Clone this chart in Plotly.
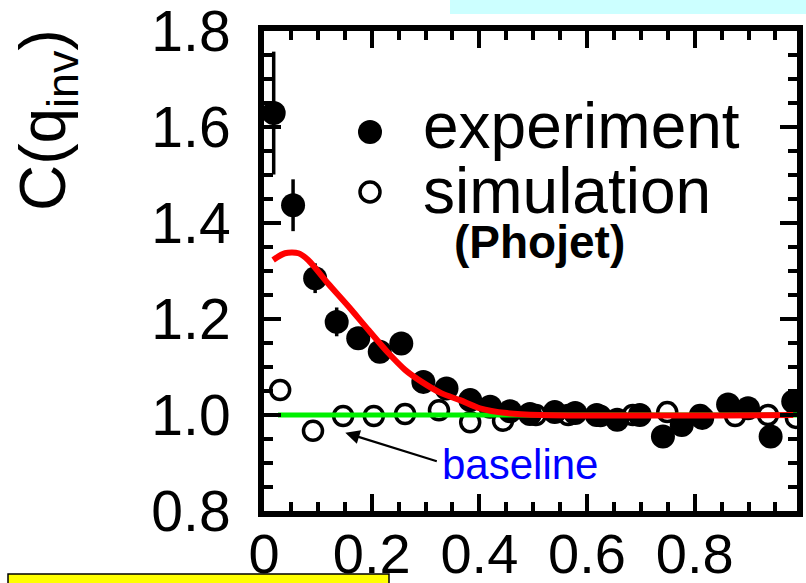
import plotly.graph_objects as go

# ---- data ----
exp_x = [0.018, 0.054, 0.095, 0.135, 0.175, 0.215, 0.255, 0.296, 0.339, 0.383,
         0.420, 0.457, 0.494, 0.540, 0.578, 0.618, 0.656, 0.698, 0.741, 0.776,
         0.814, 0.862, 0.899, 0.941, 0.983]
exp_y = [1.629, 1.437, 1.285, 1.194, 1.160, 1.132, 1.149, 1.069, 1.055, 1.031,
         1.017, 1.008, 1.002, 1.006, 1.004, 1.000, 0.990, 1.000, 0.955, 0.979,
         0.994, 1.022, 1.014, 0.955, 1.028]
exp_err = [0.128, 0.054, 0.031, 0.030, 0.018, 0.012, 0.012, 0.010, 0.010, 0.008,
           0.008, 0.008, 0.008, 0.008, 0.008, 0.008, 0.008, 0.008, 0.008, 0.008,
           0.008, 0.008, 0.008, 0.008, 0.008]

sim_x = [0.030, 0.091, 0.147, 0.204, 0.262, 0.325, 0.383, 0.444, 0.505, 0.565,
         0.625, 0.685, 0.749, 0.810, 0.875, 0.936, 0.988]
sim_y = [1.052, 0.967, 0.998, 0.998, 1.002, 1.010, 0.985, 0.988, 1.000, 1.000,
         0.998, 1.000, 1.006, 1.000, 0.998, 1.000, 0.994]

fit_x = [0.017, 0.039, 0.064, 0.082, 0.119, 0.157, 0.194, 0.231, 0.262, 0.293,
         0.330, 0.364, 0.401, 0.451, 0.513, 0.983]
fit_y = [1.323, 1.337, 1.337, 1.323, 1.274, 1.226, 1.177, 1.129, 1.094, 1.069,
         1.045, 1.031, 1.014, 1.004, 1.000, 1.000]

base_x = [0.026, 0.99]
base_y = [1.0, 1.0]

x_range = [0, 0.99]
y_range = [0.8, 1.8]

# ---- layout geometry ----
L, R, T, B = 264, 9, 31, 72
W, H = 806, 583
PW, PH = W - L - R, H - T - B

def px(xp):
    return (xp - L) / PW

def py(yp):
    return (H - B - yp) / PH

FONT = "Liberation Sans, Arial, Helvetica, sans-serif"

fig = go.Figure()

fig.add_trace(go.Scatter(
    x=sim_x, y=sim_y, mode="markers",
    marker=dict(symbol="circle-open", size=19, color="black", line=dict(width=3.5, color="black")),
    showlegend=False, name="simulation"))

fig.add_trace(go.Scatter(
    x=exp_x, y=exp_y, mode="markers",
    marker=dict(symbol="circle", size=24, color="black"),
    error_y=dict(type="data", array=exp_err, visible=True, color="black", thickness=3.5, width=0),
    showlegend=False, name="experiment"))

fig.add_trace(go.Scatter(
    x=base_x, y=base_y, mode="lines",
    line=dict(color="#00f000", width=5), showlegend=False, name="baseline"))

fig.add_trace(go.Scatter(
    x=fit_x, y=fit_y, mode="lines",
    line=dict(color="#ff0000", width=6, shape="spline", smoothing=0.8),
    showlegend=False, name="fit"))

axis_common = dict(
    showline=True, linecolor="black", linewidth=6, mirror="ticks",
    ticks="inside", ticklen=17, tickwidth=4, tickcolor="black",
    showgrid=False, zeroline=False, automargin=False,
    ticklabeloverflow="allow",
)

fig.update_xaxes(
    range=x_range, tickvals=[0, 0.2, 0.4, 0.6, 0.8], ticktext=["0", "0.2", "0.4", "0.6", "0.8"],
    minor=dict(dtick=0.05, tick0=0, ticks="inside", ticklen=9, tickwidth=4, tickcolor="black", showgrid=False),
    tickfont=dict(family=FONT, size=56, color="black"), ticklabelstandoff=-11,
    **axis_common)
fig.update_yaxes(
    range=y_range, dtick=0.2, tick0=0.8, tickformat=".1f",
    minor=dict(dtick=0.05, tick0=0.8, ticks="inside", ticklen=9, tickwidth=4, tickcolor="black", showgrid=False),
    tickfont=dict(family=FONT, size=57, color="black"), ticklabelstandoff=16,
    **axis_common)

shapes = [
    # cyan strip at top
    dict(type="rect", xref="paper", yref="paper", x0=px(450), x1=px(812), y0=py(14), y1=py(-5),
         fillcolor="#ccffff", line=dict(width=0), layer="below"),
    # yellow box bottom-left
    dict(type="rect", xref="paper", yref="paper", x0=px(8), x1=px(389), y0=py(590), y1=py(574),
         fillcolor="#ffff00", line=dict(width=1.5, color="black"), layer="below"),
    # legend keys
    dict(type="circle", xref="paper", yref="paper", x0=px(358), x1=px(382), y0=py(144), y1=py(120),
         fillcolor="black", line=dict(width=0)),
    dict(type="circle", xref="paper", yref="paper", x0=px(360), x1=px(380), y0=py(202), y1=py(182),
         fillcolor="rgba(0,0,0,0)", line=dict(width=3.5, color="black")),
]

annotations = [
    dict(text="C(q<sub>inv</sub>)", xref="paper", yref="paper", x=px(47), y=py(120),
         xanchor="center", yanchor="middle", textangle=-90, showarrow=False,
         font=dict(family=FONT, size=64, color="black")),
    dict(text="experiment", xref="paper", yref="paper", x=px(421), y=py(126),
         xanchor="left", yanchor="middle", showarrow=False,
         font=dict(family=FONT, size=64, color="black")),
    dict(text="simulation", xref="paper", yref="paper", x=px(421), y=py(191),
         xanchor="left", yanchor="middle", showarrow=False,
         font=dict(family=FONT, size=64, color="black")),
    dict(text="<b>(Phojet)</b>", xref="paper", yref="paper", x=px(452), y=py(242),
         xanchor="left", yanchor="middle", showarrow=False,
         font=dict(family=FONT, size=46, color="black")),
    dict(text="baseline", xref="paper", yref="paper", x=px(440), y=py(464),
         xanchor="left", yanchor="middle", showarrow=False,
         font=dict(family=FONT, size=42, color="#0000ff")),
    # arrow pointing to the baseline
    dict(text="", x=0.151, y=0.963, xref="x", yref="y", ax=93, ay=29, axref="pixel", ayref="pixel",
         showarrow=True, arrowhead=2, arrowsize=1.3, arrowwidth=2.2, arrowcolor="black"),
]

fig.update_layout(
    width=W, height=H,
    margin=dict(l=L, r=R, t=T, b=B, pad=0, autoexpand=False),
    paper_bgcolor="white", plot_bgcolor="white",
    shapes=shapes, annotations=annotations,
    font=dict(family=FONT, color="black"),
)

fig.write_html(
    "out.html",
    config={"displayModeBar": False},
    post_script="document.body.style.margin='0px';document.body.style.overflow='hidden';",
)
